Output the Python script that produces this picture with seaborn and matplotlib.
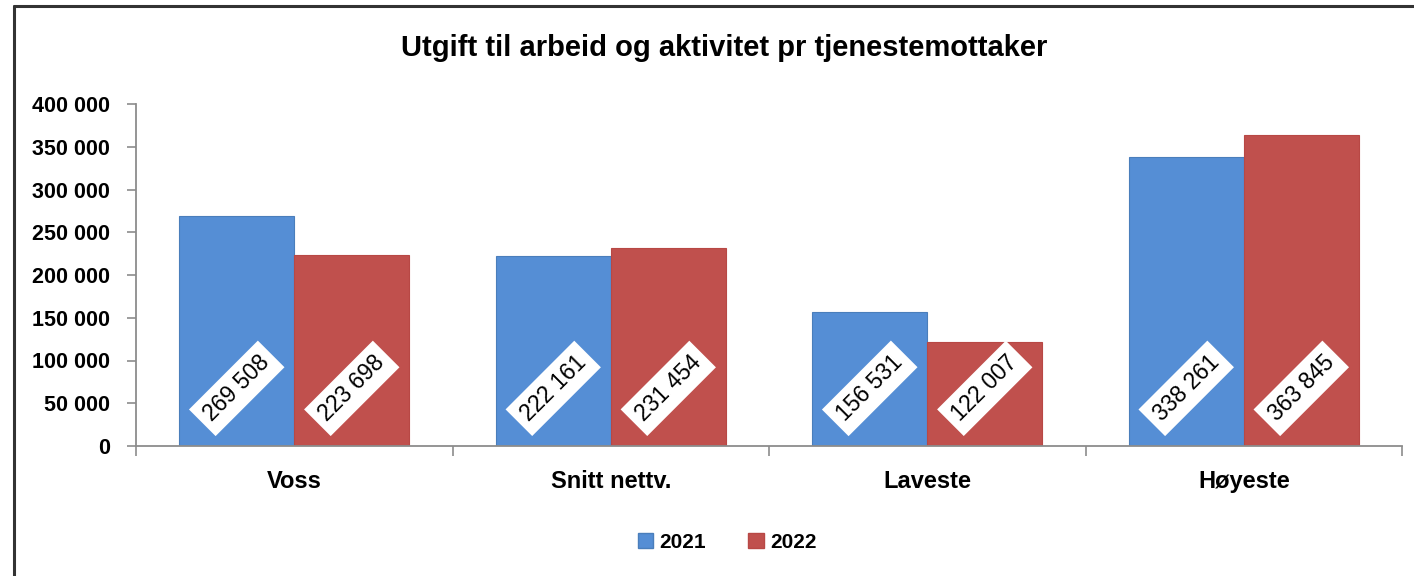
import pandas as pd
import matplotlib
matplotlib.use("Agg")
import matplotlib.pyplot as plt
import matplotlib.ticker as mticker
from matplotlib.lines import Line2D
import seaborn as sns

# ---------------- DATA ----------------
categories = ["Voss", "Snitt nettv.", "Laveste", "Høyeste"]
years = ["2021", "2022"]
values_2021 = [269508, 222161, 156531, 338261]
values_2022 = [223698, 231454, 122007, 363845]
y_ticks = [0, 50000, 100000, 150000, 200000, 250000, 300000, 350000, 400000]

df = pd.DataFrame({
    "kategori": categories * 2,
    "aar": [years[0]] * 4 + [years[1]] * 4,
    "verdi": values_2021 + values_2022,
})

sns.set_theme(style="white")
plt.rcParams["font.family"] = ["Liberation Sans", "DejaVu Sans"]
plt.rcParams["text.color"] = "black"
plt.rcParams["xtick.labelcolor"] = "black"
plt.rcParams["ytick.labelcolor"] = "black"

colors = {"2021": "#558ED5", "2022": "#C0504D"}
edges = {"2021": "#4A7EBB", "2022": "#B84845"}

fig = plt.figure(figsize=(14.14, 5.76), dpi=100)
ax = fig.add_axes([136 / 1414, 1 - 446 / 576, (1402 - 136) / 1414, (446 - 104) / 576])

sns.barplot(data=df, x="kategori", y="verdi", hue="aar", palette=colors,
            width=0.727, gap=0, saturation=1, ax=ax, legend=False)

# rotated value labels in white boxes near the base of each bar
for cont, yr in zip(ax.containers, years):
    for bar in cont:
        bar.set_edgecolor(edges[yr])
        bar.set_linewidth(0.8)
    for bar, v in zip(cont, df[df["aar"] == yr]["verdi"]):
        label = f"{v:,}".replace(",", " ")
        ax.annotate(label, xy=(bar.get_x() + bar.get_width() / 2, 0),
                    xytext=(0, 41.5), textcoords="offset points",
                    rotation=45, ha="center", va="center", rotation_mode="anchor",
                    fontsize=16.5, color="black",
                    bbox=dict(boxstyle="square,pad=0.32", fc="white", ec="none"))

ax.set_xlim(-0.5, 3.5)
ax.set_ylim(0, 400000)
ax.set_yticks(y_ticks)
ax.yaxis.set_major_formatter(mticker.FuncFormatter(lambda v, p: f"{int(v):,}".replace(",", " ")))
ax.set_xlabel("")
ax.set_ylabel("")

for s in ["top", "right"]:
    ax.spines[s].set_visible(False)
for s in ["left", "bottom"]:
    ax.spines[s].set_color("#8C8C8C")
    ax.spines[s].set_linewidth(1.3)

ax.tick_params(axis="y", which="major", direction="out", length=6.5, width=1.2,
               color="#8C8C8C", labelsize=15.5, pad=12, left=True)
ax.tick_params(axis="x", which="major", length=0, labelsize=17, pad=17)
ax.set_xticks([-0.5, 0.5, 1.5, 2.5, 3.5], minor=True)
ax.tick_params(axis="x", which="minor", direction="out", length=7, width=1.2,
               color="#8C8C8C", bottom=True)
for t in ax.get_yticklabels():
    t.set_fontweight("bold")
for t in ax.get_xticklabels():
    t.set_fontweight("bold")

fig.text(0.512, 1 - 48 / 576, "Utgift til arbeid og aktivitet pr tjenestemottaker",
         ha="center", va="center", fontsize=21, fontweight="bold")

handles = [plt.Rectangle((0, 0), 1, 1, fc=colors[y], ec=edges[y]) for y in years]
fig.legend(handles, years, loc="center", bbox_to_anchor=(727 / 1414, 1 - 542 / 576),
           ncol=2, frameon=False, handlelength=0.75, handleheight=0.75,
           handletextpad=0.3, columnspacing=2.0,
           prop={"size": 15, "weight": "bold"})

# outer frame (left and top edges visible)
fig.add_artist(Line2D([14 / 1414, 14 / 1414], [0, 1 - 6 / 576], color="#333333", lw=2.2))
fig.add_artist(Line2D([14 / 1414, 1], [1 - 6 / 576, 1 - 6 / 576], color="#333333", lw=2.2))

fig.savefig("out.png", dpi=100)
